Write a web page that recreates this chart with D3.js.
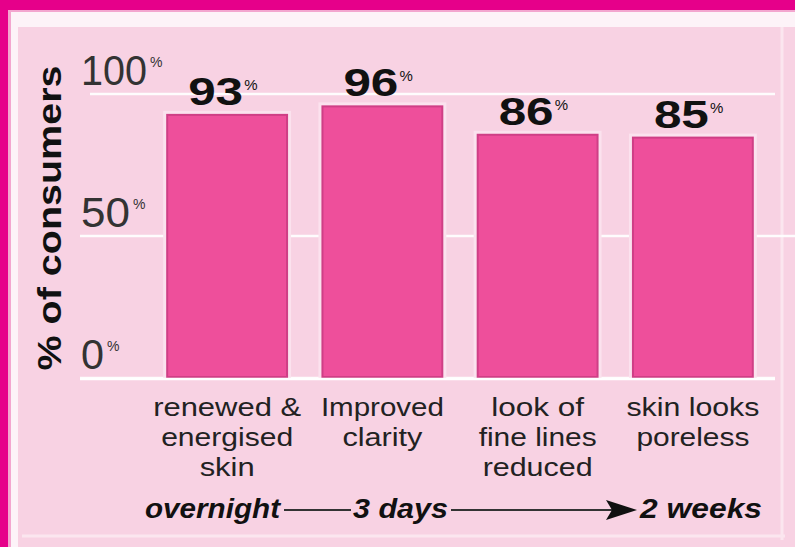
<!DOCTYPE html>
<html>
<head>
<meta charset="utf-8">
<script src="https://cdn.jsdelivr.net/npm/d3@7"></script>
<style>
  html, body { margin: 0; padding: 0; background: #e8008a; }
  svg { display: block; }
</style>
</head>
<body>
<svg id="chart" width="795" height="547"></svg>
<script>
// ---- data ----
const categories = ["renewed & energised skin", "Improved clarity", "look of fine lines reduced", "skin looks poreless"];
const categoryLines = [["renewed &", "energised", "skin"], ["Improved", "clarity"], ["look of", "fine lines", "reduced"], ["skin looks", "poreless"]];
const values = [93, 96, 86, 85];
const yTicks = [0, 50, 100];
const yTickLabels = ["0", "50", "100"];
const timeline = ["overnight", "3 days", "2 weeks"];
const yTitle = "% of consumers";

// ---- layout ----
const W = 795, H = 547;
const svg = d3.select("#chart");
const pink = "#f8d2e3";
const barFill = "#ee4f9b";
const barEdge = "#cf3f86";

// frame
svg.append("rect").attr("x", 0).attr("y", 0).attr("width", W).attr("height", H).attr("fill", "#e6008a");
svg.append("rect").attr("x", 8).attr("y", 10).attr("width", W - 8).attr("height", H - 10).attr("fill", "#f3a6cf");
svg.append("rect").attr("x", 11).attr("y", 12).attr("width", W - 11).attr("height", H - 12).attr("fill", "#fdf3f8");
svg.append("rect").attr("x", 18).attr("y", 27).attr("width", W - 18).attr("height", H - 27).attr("fill", pink);
// faint inner frame lines
svg.append("line").attr("x1", 22).attr("x2", 785).attr("y1", 536).attr("y2", 536).attr("stroke", "#fbe6ef").attr("stroke-width", 3);
svg.append("line").attr("x1", 782).attr("x2", 782).attr("y1", 27).attr("y2", 540).attr("stroke", "#fbe6ef").attr("stroke-width", 3);

const x = d3.scaleBand().domain(categories).range([149.5, 770.5]).paddingInner(0.215).paddingOuter(0.1075);
const y = d3.scaleLinear().domain([0, 100]).range([378, 94]);

// gridlines
const gridExtent = { 0: [80, 775], 50: [80, 795], 100: [90, 775] };
svg.append("g").selectAll("line").data(yTicks).join("line")
  .attr("x1", d => gridExtent[d][0]).attr("x2", d => gridExtent[d][1])
  .attr("y1", d => y(d)).attr("y2", d => y(d))
  .attr("stroke", "#ffffff").attr("stroke-width", 2.5).attr("opacity", 0.95);

// tick labels
const tickG = svg.append("g").attr("font-family", "'Liberation Sans', Arial, sans-serif").attr("fill", "#333");
const tickLen = { "0": 23, "50": 49, "100": 66 };
yTicks.forEach((t, i) => {
  const len = tickLen[yTickLabels[i]];
  tickG.append("text").attr("x", 81).attr("y", y(t) - 9).attr("font-size", 42).attr("font-weight", 300)
    .attr("textLength", len).attr("lengthAdjust", "spacingAndGlyphs").text(yTickLabels[i]);
  tickG.append("text").attr("x", 81 + len + 3).attr("y", y(t) - 27).attr("font-size", 14).text("%");
});

// y title
svg.append("text")
  .attr("transform", `translate(61,218) rotate(-90)`)
  .attr("text-anchor", "middle")
  .attr("font-family", "'Liberation Sans', Arial, sans-serif")
  .attr("font-weight", "bold").attr("font-size", 33).attr("fill", "#111")
  .attr("textLength", 305).attr("lengthAdjust", "spacingAndGlyphs")
  .text(yTitle);

// bars
const barG = svg.append("g");
barG.selectAll("rect.halo").data(categories).join("rect").attr("class", "halo")
  .attr("x", d => x(d) - 3).attr("width", x.bandwidth() + 6)
  .attr("y", (d, i) => y(values[i]) - 3).attr("height", (d, i) => y(0) - y(values[i]) + 3)
  .attr("fill", "#fbe2ee");
barG.selectAll("rect.bar").data(categories).join("rect").attr("class", "bar")
  .attr("x", d => x(d) + 1).attr("width", x.bandwidth() - 2)
  .attr("y", (d, i) => y(values[i]) + 1).attr("height", (d, i) => y(0) - y(values[i]) - 2)
  .attr("fill", barFill).attr("stroke", barEdge).attr("stroke-width", 2);
// baseline over bars
svg.append("line").attr("x1", 80).attr("x2", 775).attr("y1", y(0) + 1).attr("y2", y(0) + 1)
  .attr("stroke", "#ffffff").attr("stroke-width", 2.5);

// value labels
const valG = svg.append("g").attr("font-family", "'Liberation Sans', Arial, sans-serif").attr("fill", "#111");
categories.forEach((c, i) => {
  const cx = x(c) + x.bandwidth() / 2;
  valG.append("text").attr("x", cx + 16).attr("y", y(values[i]) - 9).attr("text-anchor", "end")
    .attr("font-size", 38).attr("font-weight", "bold")
    .attr("textLength", 55).attr("lengthAdjust", "spacingAndGlyphs").text(values[i]);
  valG.append("text").attr("x", cx + 17).attr("y", y(values[i]) - 24).attr("font-size", 15).text("%");
});

// category labels (clipped at bottom like the reference)
svg.append("clipPath").attr("id", "catclip").append("rect").attr("x", 0).attr("y", 380).attr("width", W).attr("height", 98);
const catG = svg.append("g").attr("clip-path", "url(#catclip)")
  .attr("font-family", "'Liberation Sans Narrow', 'Liberation Sans', Arial, sans-serif").attr("fill", "#222").attr("font-size", 26.5);
const lineWidths = [[148, 132, 55], [123, 80], [93, 118, 110], [133, 113]];
categories.forEach((c, i) => {
  const cx = x(c) + x.bandwidth() / 2;
  categoryLines[i].forEach((ln, j) => {
    catG.append("text").attr("x", cx).attr("y", 416 + j * 30).attr("text-anchor", "middle")
      .attr("textLength", lineWidths[i][j]).attr("lengthAdjust", "spacingAndGlyphs").text(ln);
  });
});

// timeline
const tlG = svg.append("g").attr("font-family", "'Liberation Sans', Arial, sans-serif")
  .attr("font-weight", "bold").attr("font-style", "italic").attr("font-size", 28).attr("fill", "#111");
const tlPos = [[145, 135], [353, 95], [640, 122]];
timeline.forEach((t, i) => {
  tlG.append("text").attr("x", tlPos[i][0]).attr("y", 518).attr("textLength", tlPos[i][1]).attr("lengthAdjust", "spacingAndGlyphs").text(t);
});
svg.append("line").attr("x1", 284).attr("x2", 351).attr("y1", 510).attr("y2", 510).attr("stroke", "#333").attr("stroke-width", 2);
svg.append("line").attr("x1", 451).attr("x2", 612).attr("y1", 510).attr("y2", 510).attr("stroke", "#333").attr("stroke-width", 2);
svg.append("path").attr("d", "M606,500 L637,510 L606,520 L612,510 Z").attr("fill", "#111");
</script>
</body>
</html>
